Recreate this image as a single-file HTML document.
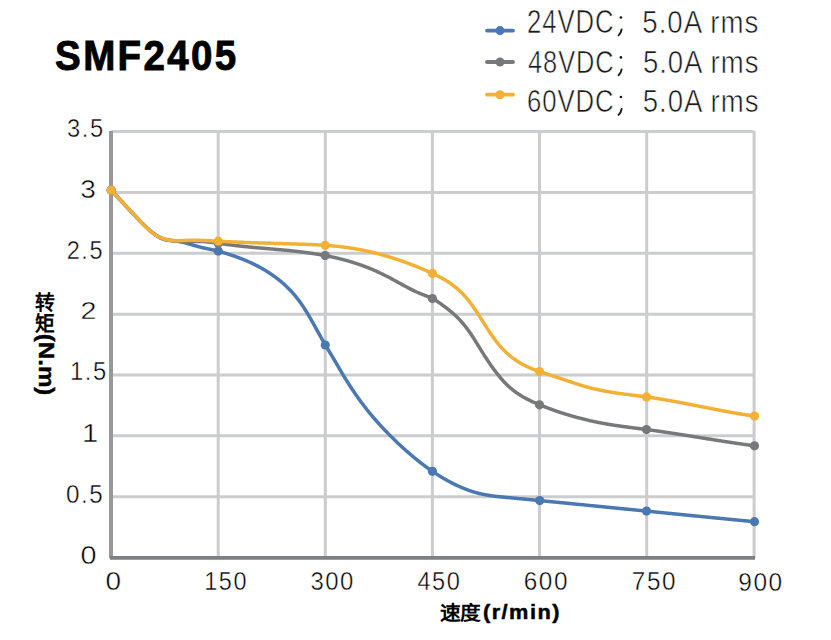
<!DOCTYPE html>
<html lang="zh-CN"><head><meta charset="utf-8"><style>
html,body{margin:0;padding:0;background:#fff;width:831px;height:640px;overflow:hidden;position:relative}
.t{position:absolute;left:0;top:0;font-family:"Liberation Sans",sans-serif;color:#000;white-space:nowrap;line-height:1;transform-origin:0 0}
</style></head><body>
<svg width="831" height="640" viewBox="0 0 831 640" style="position:absolute;left:0;top:0">
<line x1="111" y1="131.60" x2="753.8" y2="131.60" stroke="#cbccce" stroke-width="3"/>
<line x1="111" y1="192.45" x2="753.8" y2="192.45" stroke="#cbccce" stroke-width="3"/>
<line x1="111" y1="253.30" x2="753.8" y2="253.30" stroke="#cbccce" stroke-width="3"/>
<line x1="111" y1="314.15" x2="753.8" y2="314.15" stroke="#cbccce" stroke-width="3"/>
<line x1="111" y1="375.00" x2="753.8" y2="375.00" stroke="#cbccce" stroke-width="3"/>
<line x1="111" y1="435.85" x2="753.8" y2="435.85" stroke="#cbccce" stroke-width="3"/>
<line x1="111" y1="496.70" x2="753.8" y2="496.70" stroke="#cbccce" stroke-width="3"/>
<line x1="218.20" y1="131.00" x2="218.20" y2="558" stroke="#cbccce" stroke-width="3"/>
<line x1="325.30" y1="131.00" x2="325.30" y2="558" stroke="#cbccce" stroke-width="3"/>
<line x1="432.40" y1="131.00" x2="432.40" y2="558" stroke="#cbccce" stroke-width="3"/>
<line x1="539.50" y1="131.00" x2="539.50" y2="558" stroke="#cbccce" stroke-width="3"/>
<line x1="646.70" y1="131.00" x2="646.70" y2="558" stroke="#cbccce" stroke-width="3"/>
<line x1="754.10" y1="131.00" x2="754.10" y2="558" stroke="#cbccce" stroke-width="3"/>
<line x1="111" y1="131.10" x2="111" y2="558" stroke="#97989c" stroke-width="4"/>
<line x1="110" y1="557.9" x2="755" y2="557.9" stroke="#7e7f83" stroke-width="3.8"/>
<path d="M111.20,190.20 L111.70,190.72 L112.20,191.25 L112.70,191.78 L113.20,192.31 L113.70,192.84 L114.20,193.37 L114.70,193.91 L115.20,194.44 L115.70,194.98 L116.20,195.51 L116.70,196.05 L117.20,196.59 L117.70,197.13 L118.20,197.67 L118.70,198.21 L119.20,198.75 L119.70,199.29 L120.20,199.83 L120.70,200.37 L121.20,200.92 L121.70,201.46 L122.20,202.00 L122.70,202.54 L123.20,203.09 L123.70,203.63 L124.20,204.17 L124.70,204.71 L125.20,205.26 L125.70,205.80 L126.20,206.34 L126.70,206.88 L127.20,207.42 L127.70,207.96 L128.20,208.50 L128.70,209.04 L129.20,209.58 L129.70,210.12 L130.20,210.66 L130.70,211.19 L131.20,211.73 L131.70,212.26 L132.20,212.79 L132.70,213.33 L133.20,213.86 L133.70,214.39 L134.20,214.91 L134.70,215.44 L135.20,215.97 L135.70,216.49 L136.20,217.01 L136.70,217.53 L137.20,218.05 L137.70,218.57 L138.20,219.08 L138.70,219.60 L139.20,220.11 L139.70,220.62 L140.20,221.12 L140.70,221.63 L141.20,222.13 L141.70,222.63 L142.20,223.13 L142.70,223.63 L143.20,224.12 L143.70,224.61 L144.20,225.10 L144.70,225.59 L145.20,226.07 L145.70,226.55 L146.20,227.03 L146.70,227.50 L147.20,227.97 L147.70,228.44 L148.20,228.90 L148.70,229.36 L149.20,229.81 L149.70,230.26 L150.20,230.71 L150.70,231.14 L151.20,231.57 L151.70,231.99 L152.20,232.41 L152.70,232.82 L153.20,233.22 L153.70,233.62 L154.20,234.00 L154.70,234.38 L155.20,234.75 L155.70,235.11 L156.20,235.46 L156.70,235.79 L157.20,236.12 L157.70,236.44 L158.20,236.75 L158.70,237.05 L159.20,237.33 L159.70,237.60 L160.20,237.86 L160.70,238.11 L161.20,238.35 L161.70,238.57 L162.20,238.78 L162.70,238.97 L163.20,239.15 L163.70,239.32 L164.20,239.47 L164.70,239.60 L165.20,239.73 L165.70,239.83 L166.20,239.93 L166.70,240.02 L167.20,240.09 L167.70,240.16 L168.20,240.22 L168.70,240.27 L169.20,240.32 L169.70,240.36 L170.20,240.40 L170.70,240.44 L171.20,240.48 L171.70,240.51 L172.20,240.55 L172.70,240.59 L173.20,240.63 L173.70,240.68 L174.20,240.73 L174.70,240.79 L175.20,240.85 L175.70,240.92 L176.20,240.99 L176.70,241.07 L177.20,241.15 L177.70,241.23 L178.20,241.32 L178.70,241.41 L179.20,241.51 L179.70,241.61 L180.20,241.71 L180.70,241.82 L181.20,241.93 L181.70,242.04 L182.20,242.15 L182.70,242.27 L183.20,242.39 L183.70,242.52 L184.20,242.64 L184.70,242.77 L185.20,242.90 L185.70,243.04 L186.20,243.17 L186.70,243.31 L187.20,243.44 L187.70,243.58 L188.20,243.72 L188.70,243.86 L189.20,244.01 L189.70,244.15 L190.20,244.29 L190.70,244.44 L191.20,244.58 L191.70,244.73 L192.20,244.87 L192.70,245.02 L193.20,245.16 L193.70,245.31 L194.20,245.45 L194.70,245.60 L195.20,245.74 L195.70,245.88 L196.20,246.02 L196.70,246.17 L197.20,246.30 L197.70,246.44 L198.20,246.58 L198.70,246.71 L199.20,246.85 L199.70,246.98 L200.20,247.11 L200.70,247.23 L201.20,247.36 L201.70,247.48 L202.20,247.60 L202.70,247.72 L203.20,247.83 L203.70,247.95 L204.20,248.06 L204.70,248.17 L205.20,248.28 L205.70,248.39 L206.20,248.49 L206.70,248.60 L207.20,248.70 L207.70,248.81 L208.20,248.91 L208.70,249.02 L209.20,249.12 L209.70,249.22 L210.20,249.33 L210.70,249.43 L211.20,249.54 L211.70,249.64 L212.20,249.75 L212.70,249.85 L213.20,249.96 L213.70,250.07 L214.20,250.18 L214.70,250.29 L215.20,250.41 L215.70,250.52 L216.20,250.64 L216.70,250.76 L217.20,250.88 L217.70,251.00 L218.20,251.13 L218.70,251.26 L219.20,251.39 L219.70,251.52 L220.20,251.66 L220.70,251.80 L221.20,251.94 L221.70,252.08 L222.20,252.23 L222.70,252.37 L223.20,252.52 L223.70,252.67 L224.20,252.82 L224.70,252.97 L225.20,253.13 L225.70,253.28 L226.20,253.44 L226.70,253.60 L227.20,253.76 L227.70,253.92 L228.20,254.08 L228.70,254.24 L229.20,254.40 L229.70,254.56 L230.20,254.73 L230.70,254.89 L231.20,255.06 L231.70,255.23 L232.20,255.40 L232.70,255.57 L233.20,255.74 L233.70,255.91 L234.20,256.08 L234.70,256.26 L235.20,256.43 L235.70,256.61 L236.20,256.79 L236.70,256.97 L237.20,257.15 L237.70,257.33 L238.20,257.52 L238.70,257.70 L239.20,257.89 L239.70,258.08 L240.20,258.27 L240.70,258.46 L241.20,258.66 L241.70,258.85 L242.20,259.05 L242.70,259.25 L243.20,259.45 L243.70,259.65 L244.20,259.85 L244.70,260.06 L245.20,260.27 L245.70,260.47 L246.20,260.69 L246.70,260.90 L247.20,261.11 L247.70,261.33 L248.20,261.55 L248.70,261.77 L249.20,261.99 L249.70,262.22 L250.20,262.45 L250.70,262.67 L251.20,262.91 L251.70,263.14 L252.20,263.38 L252.70,263.61 L253.20,263.85 L253.70,264.10 L254.20,264.34 L254.70,264.59 L255.20,264.84 L255.70,265.09 L256.20,265.34 L256.70,265.60 L257.20,265.86 L257.70,266.12 L258.20,266.39 L258.70,266.65 L259.20,266.92 L259.70,267.20 L260.20,267.47 L260.70,267.75 L261.20,268.03 L261.70,268.31 L262.20,268.60 L262.70,268.88 L263.20,269.17 L263.70,269.47 L264.20,269.77 L264.70,270.07 L265.20,270.37 L265.70,270.67 L266.20,270.98 L266.70,271.29 L267.20,271.61 L267.70,271.92 L268.20,272.25 L268.70,272.57 L269.20,272.90 L269.70,273.23 L270.20,273.56 L270.70,273.89 L271.20,274.23 L271.70,274.58 L272.20,274.92 L272.70,275.27 L273.20,275.62 L273.70,275.98 L274.20,276.34 L274.70,276.70 L275.20,277.07 L275.70,277.44 L276.20,277.81 L276.70,278.19 L277.20,278.57 L277.70,278.95 L278.20,279.34 L278.70,279.74 L279.20,280.13 L279.70,280.53 L280.20,280.94 L280.70,281.35 L281.20,281.77 L281.70,282.19 L282.20,282.61 L282.70,283.04 L283.20,283.48 L283.70,283.92 L284.20,284.36 L284.70,284.82 L285.20,285.28 L285.70,285.74 L286.20,286.21 L286.70,286.68 L287.20,287.17 L287.70,287.66 L288.20,288.15 L288.70,288.65 L289.20,289.16 L289.70,289.68 L290.20,290.20 L290.70,290.73 L291.20,291.26 L291.70,291.81 L292.20,292.36 L292.70,292.92 L293.20,293.49 L293.70,294.06 L294.20,294.64 L294.70,295.23 L295.20,295.83 L295.70,296.44 L296.20,297.06 L296.70,297.68 L297.20,298.31 L297.70,298.96 L298.20,299.61 L298.70,300.27 L299.20,300.94 L299.70,301.61 L300.20,302.30 L300.70,303.00 L301.20,303.71 L301.70,304.43 L302.20,305.15 L302.70,305.89 L303.20,306.64 L303.70,307.39 L304.20,308.16 L304.70,308.94 L305.20,309.73 L305.70,310.53 L306.20,311.33 L306.70,312.15 L307.20,312.97 L307.70,313.80 L308.20,314.64 L308.70,315.49 L309.20,316.34 L309.70,317.20 L310.20,318.06 L310.70,318.93 L311.20,319.80 L311.70,320.68 L312.20,321.57 L312.70,322.45 L313.20,323.35 L313.70,324.24 L314.20,325.14 L314.70,326.04 L315.20,326.94 L315.70,327.84 L316.20,328.74 L316.70,329.65 L317.20,330.55 L317.70,331.45 L318.20,332.36 L318.70,333.26 L319.20,334.16 L319.70,335.06 L320.20,335.96 L320.70,336.86 L321.20,337.75 L321.70,338.64 L322.20,339.53 L322.70,340.41 L323.20,341.29 L323.70,342.16 L324.20,343.03 L324.70,343.89 L325.20,344.75 L325.70,345.60 L326.20,346.44 L326.70,347.28 L327.20,348.12 L327.70,348.95 L328.20,349.77 L328.70,350.60 L329.20,351.43 L329.70,352.25 L330.20,353.07 L330.70,353.90 L331.20,354.73 L331.70,355.55 L332.20,356.39 L332.70,357.22 L333.20,358.06 L333.70,358.90 L334.20,359.75 L334.70,360.60 L335.20,361.45 L335.70,362.30 L336.20,363.16 L336.70,364.01 L337.20,364.87 L337.70,365.73 L338.20,366.58 L338.70,367.44 L339.20,368.29 L339.70,369.15 L340.20,370.00 L340.70,370.85 L341.20,371.69 L341.70,372.54 L342.20,373.38 L342.70,374.21 L343.20,375.04 L343.70,375.87 L344.20,376.69 L344.70,377.51 L345.20,378.32 L345.70,379.13 L346.20,379.94 L346.70,380.74 L347.20,381.53 L347.70,382.33 L348.20,383.11 L348.70,383.90 L349.20,384.68 L349.70,385.45 L350.20,386.22 L350.70,386.99 L351.20,387.75 L351.70,388.51 L352.20,389.26 L352.70,390.01 L353.20,390.76 L353.70,391.50 L354.20,392.24 L354.70,392.97 L355.20,393.70 L355.70,394.42 L356.20,395.14 L356.70,395.86 L357.20,396.57 L357.70,397.28 L358.20,397.98 L358.70,398.68 L359.20,399.38 L359.70,400.07 L360.20,400.76 L360.70,401.44 L361.20,402.12 L361.70,402.80 L362.20,403.47 L362.70,404.13 L363.20,404.80 L363.70,405.45 L364.20,406.11 L364.70,406.76 L365.20,407.41 L365.70,408.05 L366.20,408.69 L366.70,409.32 L367.20,409.96 L367.70,410.58 L368.20,411.21 L368.70,411.83 L369.20,412.44 L369.70,413.06 L370.20,413.67 L370.70,414.27 L371.20,414.88 L371.70,415.48 L372.20,416.07 L372.70,416.67 L373.20,417.26 L373.70,417.84 L374.20,418.43 L374.70,419.01 L375.20,419.58 L375.70,420.16 L376.20,420.73 L376.70,421.29 L377.20,421.86 L377.70,422.42 L378.20,422.98 L378.70,423.54 L379.20,424.09 L379.70,424.64 L380.20,425.19 L380.70,425.73 L381.20,426.27 L381.70,426.81 L382.20,427.35 L382.70,427.89 L383.20,428.42 L383.70,428.95 L384.20,429.48 L384.70,430.00 L385.20,430.52 L385.70,431.04 L386.20,431.56 L386.70,432.08 L387.20,432.59 L387.70,433.10 L388.20,433.61 L388.70,434.12 L389.20,434.63 L389.70,435.13 L390.20,435.63 L390.70,436.13 L391.20,436.63 L391.70,437.13 L392.20,437.62 L392.70,438.11 L393.20,438.60 L393.70,439.09 L394.20,439.58 L394.70,440.07 L395.20,440.55 L395.70,441.03 L396.20,441.51 L396.70,441.99 L397.20,442.47 L397.70,442.94 L398.20,443.41 L398.70,443.89 L399.20,444.35 L399.70,444.82 L400.20,445.29 L400.70,445.75 L401.20,446.21 L401.70,446.67 L402.20,447.13 L402.70,447.59 L403.20,448.04 L403.70,448.50 L404.20,448.95 L404.70,449.40 L405.20,449.85 L405.70,450.29 L406.20,450.73 L406.70,451.18 L407.20,451.62 L407.70,452.05 L408.20,452.49 L408.70,452.92 L409.20,453.36 L409.70,453.79 L410.20,454.22 L410.70,454.64 L411.20,455.07 L411.70,455.49 L412.20,455.91 L412.70,456.33 L413.20,456.75 L413.70,457.16 L414.20,457.58 L414.70,457.99 L415.20,458.40 L415.70,458.81 L416.20,459.21 L416.70,459.62 L417.20,460.02 L417.70,460.42 L418.20,460.82 L418.70,461.21 L419.20,461.61 L419.70,462.00 L420.20,462.39 L420.70,462.78 L421.20,463.16 L421.70,463.55 L422.20,463.93 L422.70,464.31 L423.20,464.69 L423.70,465.06 L424.20,465.44 L424.70,465.81 L425.20,466.18 L425.70,466.55 L426.20,466.92 L426.70,467.28 L427.20,467.64 L427.70,468.00 L428.20,468.36 L428.70,468.72 L429.20,469.07 L429.70,469.42 L430.20,469.77 L430.70,470.12 L431.20,470.47 L431.70,470.81 L432.20,471.15 L432.70,471.49 L433.20,471.83 L433.70,472.17 L434.20,472.50 L434.70,472.83 L435.20,473.16 L435.70,473.49 L436.20,473.81 L436.70,474.14 L437.20,474.46 L437.70,474.78 L438.20,475.10 L438.70,475.41 L439.20,475.72 L439.70,476.03 L440.20,476.34 L440.70,476.65 L441.20,476.95 L441.70,477.26 L442.20,477.56 L442.70,477.85 L443.20,478.15 L443.70,478.44 L444.20,478.74 L444.70,479.03 L445.20,479.31 L445.70,479.60 L446.20,479.88 L446.70,480.16 L447.20,480.44 L447.70,480.72 L448.20,480.99 L448.70,481.26 L449.20,481.53 L449.70,481.80 L450.20,482.07 L450.70,482.33 L451.20,482.59 L451.70,482.85 L452.20,483.11 L452.70,483.36 L453.20,483.61 L453.70,483.86 L454.20,484.11 L454.70,484.36 L455.20,484.60 L455.70,484.84 L456.20,485.08 L456.70,485.32 L457.20,485.55 L457.70,485.78 L458.20,486.01 L458.70,486.24 L459.20,486.46 L459.70,486.69 L460.20,486.91 L460.70,487.12 L461.20,487.34 L461.70,487.55 L462.20,487.76 L462.70,487.97 L463.20,488.18 L463.70,488.38 L464.20,488.58 L464.70,488.78 L465.20,488.97 L465.70,489.17 L466.20,489.36 L466.70,489.55 L467.20,489.73 L467.70,489.92 L468.20,490.10 L468.70,490.28 L469.20,490.45 L469.70,490.63 L470.20,490.80 L470.70,490.97 L471.20,491.13 L471.70,491.30 L472.20,491.46 L472.70,491.62 L473.20,491.77 L473.70,491.93 L474.20,492.08 L474.70,492.23 L475.20,492.37 L475.70,492.52 L476.20,492.66 L476.70,492.79 L477.20,492.93 L477.70,493.06 L478.20,493.19 L478.70,493.32 L479.20,493.45 L479.70,493.57 L480.20,493.69 L480.70,493.80 L481.20,493.92 L481.70,494.03 L482.20,494.14 L482.70,494.25 L483.20,494.35 L483.70,494.45 L484.20,494.55 L484.70,494.65 L485.20,494.74 L485.70,494.84 L486.20,494.93 L486.70,495.02 L487.20,495.10 L487.70,495.19 L488.20,495.27 L488.70,495.35 L489.20,495.43 L489.70,495.51 L490.20,495.58 L490.70,495.66 L491.20,495.73 L491.70,495.80 L492.20,495.87 L492.70,495.94 L493.20,496.00 L493.70,496.07 L494.20,496.13 L494.70,496.19 L495.20,496.25 L495.70,496.31 L496.20,496.37 L496.70,496.43 L497.20,496.49 L497.70,496.54 L498.20,496.60 L498.70,496.65 L499.20,496.70 L499.70,496.76 L500.20,496.81 L500.70,496.86 L501.20,496.91 L501.70,496.96 L502.20,497.01 L502.70,497.06 L503.20,497.11 L503.70,497.15 L504.20,497.20 L504.70,497.25 L505.20,497.30 L505.70,497.34 L506.20,497.39 L506.70,497.44 L507.20,497.49 L507.70,497.53 L508.20,497.58 L508.70,497.63 L509.20,497.67 L509.70,497.72 L510.20,497.77 L510.70,497.82 L511.20,497.86 L511.70,497.91 L512.20,497.96 L512.70,498.00 L513.20,498.05 L513.70,498.10 L514.20,498.15 L514.70,498.19 L515.20,498.24 L515.70,498.29 L516.20,498.34 L516.70,498.38 L517.20,498.43 L517.70,498.48 L518.20,498.53 L518.70,498.57 L519.20,498.62 L519.70,498.67 L520.20,498.72 L520.70,498.76 L521.20,498.81 L521.70,498.86 L522.20,498.91 L522.70,498.95 L523.20,499.00 L523.70,499.05 L524.20,499.10 L524.70,499.14 L525.20,499.19 L525.70,499.24 L526.20,499.29 L526.70,499.34 L527.20,499.38 L527.70,499.43 L528.20,499.48 L528.70,499.53 L529.20,499.57 L529.70,499.62 L530.20,499.67 L530.70,499.72 L531.20,499.77 L531.70,499.81 L532.20,499.86 L532.70,499.91 L533.20,499.96 L533.70,500.01 L534.20,500.05 L534.70,500.10 L535.20,500.15 L535.70,500.20 L536.20,500.25 L536.70,500.29 L537.20,500.34 L537.70,500.39 L538.20,500.44 L538.70,500.49 L539.20,500.54 L539.70,500.58 L540.20,500.63 L540.70,500.68 L541.20,500.73 L541.70,500.78 L542.20,500.82 L542.70,500.87 L543.20,500.92 L543.70,500.97 L544.20,501.02 L544.70,501.07 L545.20,501.11 L545.70,501.16 L546.20,501.21 L546.70,501.26 L547.20,501.31 L547.70,501.36 L548.20,501.41 L548.70,501.45 L549.20,501.50 L549.70,501.55 L550.20,501.60 L550.70,501.65 L551.20,501.70 L551.70,501.74 L552.20,501.79 L552.70,501.84 L553.20,501.89 L553.70,501.94 L554.20,501.99 L554.70,502.04 L555.20,502.08 L555.70,502.13 L556.20,502.18 L556.70,502.23 L557.20,502.28 L557.70,502.33 L558.20,502.38 L558.70,502.43 L559.20,502.47 L559.70,502.52 L560.20,502.57 L560.70,502.62 L561.20,502.67 L561.70,502.72 L562.20,502.77 L562.70,502.82 L563.20,502.86 L563.70,502.91 L564.20,502.96 L564.70,503.01 L565.20,503.06 L565.70,503.11 L566.20,503.16 L566.70,503.21 L567.20,503.26 L567.70,503.30 L568.20,503.35 L568.70,503.40 L569.20,503.45 L569.70,503.50 L570.20,503.55 L570.70,503.60 L571.20,503.65 L571.70,503.70 L572.20,503.75 L572.70,503.79 L573.20,503.84 L573.70,503.89 L574.20,503.94 L574.70,503.99 L575.20,504.04 L575.70,504.09 L576.20,504.14 L576.70,504.19 L577.20,504.24 L577.70,504.29 L578.20,504.33 L578.70,504.38 L579.20,504.43 L579.70,504.48 L580.20,504.53 L580.70,504.58 L581.20,504.63 L581.70,504.68 L582.20,504.73 L582.70,504.78 L583.20,504.83 L583.70,504.88 L584.20,504.93 L584.70,504.97 L585.20,505.02 L585.70,505.07 L586.20,505.12 L586.70,505.17 L587.20,505.22 L587.70,505.27 L588.20,505.32 L588.70,505.37 L589.20,505.42 L589.70,505.47 L590.20,505.52 L590.70,505.57 L591.20,505.62 L591.70,505.67 L592.20,505.71 L592.70,505.76 L593.20,505.81 L593.70,505.86 L594.20,505.91 L594.70,505.96 L595.20,506.01 L595.70,506.06 L596.20,506.11 L596.70,506.16 L597.20,506.21 L597.70,506.26 L598.20,506.31 L598.70,506.36 L599.20,506.41 L599.70,506.46 L600.20,506.51 L600.70,506.56 L601.20,506.61 L601.70,506.65 L602.20,506.70 L602.70,506.75 L603.20,506.80 L603.70,506.85 L604.20,506.90 L604.70,506.95 L605.20,507.00 L605.70,507.05 L606.20,507.10 L606.70,507.15 L607.20,507.20 L607.70,507.25 L608.20,507.30 L608.70,507.35 L609.20,507.40 L609.70,507.45 L610.20,507.50 L610.70,507.55 L611.20,507.60 L611.70,507.65 L612.20,507.70 L612.70,507.75 L613.20,507.79 L613.70,507.84 L614.20,507.89 L614.70,507.94 L615.20,507.99 L615.70,508.04 L616.20,508.09 L616.70,508.14 L617.20,508.19 L617.70,508.24 L618.20,508.29 L618.70,508.34 L619.20,508.39 L619.70,508.44 L620.20,508.49 L620.70,508.54 L621.20,508.59 L621.70,508.64 L622.20,508.69 L622.70,508.74 L623.20,508.79 L623.70,508.84 L624.20,508.89 L624.70,508.94 L625.20,508.99 L625.70,509.04 L626.20,509.09 L626.70,509.14 L627.20,509.19 L627.70,509.24 L628.20,509.29 L628.70,509.34 L629.20,509.38 L629.70,509.43 L630.20,509.48 L630.70,509.53 L631.20,509.58 L631.70,509.63 L632.20,509.68 L632.70,509.73 L633.20,509.78 L633.70,509.83 L634.20,509.88 L634.70,509.93 L635.20,509.98 L635.70,510.03 L636.20,510.08 L636.70,510.13 L637.20,510.18 L637.70,510.23 L638.20,510.28 L638.70,510.33 L639.20,510.38 L639.70,510.43 L640.20,510.48 L640.70,510.53 L641.20,510.58 L641.70,510.63 L642.20,510.68 L642.70,510.73 L643.20,510.78 L643.70,510.83 L644.20,510.88 L644.70,510.93 L645.20,510.98 L645.70,511.03 L646.20,511.08 L646.70,511.13 L647.20,511.18 L647.70,511.23 L648.20,511.27 L648.70,511.32 L649.20,511.37 L649.70,511.42 L650.20,511.47 L650.70,511.52 L651.20,511.57 L651.70,511.62 L652.20,511.67 L652.70,511.72 L653.20,511.77 L653.70,511.82 L654.20,511.87 L654.70,511.92 L655.20,511.97 L655.70,512.02 L656.20,512.07 L656.70,512.12 L657.20,512.17 L657.70,512.22 L658.20,512.27 L658.70,512.32 L659.20,512.37 L659.70,512.42 L660.20,512.47 L660.70,512.52 L661.20,512.57 L661.70,512.62 L662.20,512.67 L662.70,512.72 L663.20,512.77 L663.70,512.82 L664.20,512.87 L664.70,512.91 L665.20,512.96 L665.70,513.01 L666.20,513.06 L666.70,513.11 L667.20,513.16 L667.70,513.21 L668.20,513.26 L668.70,513.31 L669.20,513.36 L669.70,513.41 L670.20,513.46 L670.70,513.51 L671.20,513.56 L671.70,513.61 L672.20,513.66 L672.70,513.71 L673.20,513.76 L673.70,513.81 L674.20,513.86 L674.70,513.91 L675.20,513.96 L675.70,514.01 L676.20,514.06 L676.70,514.11 L677.20,514.15 L677.70,514.20 L678.20,514.25 L678.70,514.30 L679.20,514.35 L679.70,514.40 L680.20,514.45 L680.70,514.50 L681.20,514.55 L681.70,514.60 L682.20,514.65 L682.70,514.70 L683.20,514.75 L683.70,514.80 L684.20,514.85 L684.70,514.90 L685.20,514.95 L685.70,515.00 L686.20,515.05 L686.70,515.09 L687.20,515.14 L687.70,515.19 L688.20,515.24 L688.70,515.29 L689.20,515.34 L689.70,515.39 L690.20,515.44 L690.70,515.49 L691.20,515.54 L691.70,515.59 L692.20,515.64 L692.70,515.69 L693.20,515.74 L693.70,515.79 L694.20,515.84 L694.70,515.88 L695.20,515.93 L695.70,515.98 L696.20,516.03 L696.70,516.08 L697.20,516.13 L697.70,516.18 L698.20,516.23 L698.70,516.28 L699.20,516.33 L699.70,516.38 L700.20,516.43 L700.70,516.48 L701.20,516.52 L701.70,516.57 L702.20,516.62 L702.70,516.67 L703.20,516.72 L703.70,516.77 L704.20,516.82 L704.70,516.87 L705.20,516.92 L705.70,516.97 L706.20,517.02 L706.70,517.06 L707.20,517.11 L707.70,517.16 L708.20,517.21 L708.70,517.26 L709.20,517.31 L709.70,517.36 L710.20,517.41 L710.70,517.46 L711.20,517.51 L711.70,517.56 L712.20,517.60 L712.70,517.65 L713.20,517.70 L713.70,517.75 L714.20,517.80 L714.70,517.85 L715.20,517.90 L715.70,517.95 L716.20,518.00 L716.70,518.04 L717.20,518.09 L717.70,518.14 L718.20,518.19 L718.70,518.24 L719.20,518.29 L719.70,518.34 L720.20,518.39 L720.70,518.43 L721.20,518.48 L721.70,518.53 L722.20,518.58 L722.70,518.63 L723.20,518.68 L723.70,518.73 L724.20,518.78 L724.70,518.82 L725.20,518.87 L725.70,518.92 L726.20,518.97 L726.70,519.02 L727.20,519.07 L727.70,519.12 L728.20,519.16 L728.70,519.21 L729.20,519.26 L729.70,519.31 L730.20,519.36 L730.70,519.41 L731.20,519.46 L731.70,519.50 L732.20,519.55 L732.70,519.60 L733.20,519.65 L733.70,519.70 L734.20,519.75 L734.70,519.79 L735.20,519.84 L735.70,519.89 L736.20,519.94 L736.70,519.99 L737.20,520.04 L737.70,520.08 L738.20,520.13 L738.70,520.18 L739.20,520.23 L739.70,520.28 L740.20,520.33 L740.70,520.37 L741.20,520.42 L741.70,520.47 L742.20,520.52 L742.70,520.57 L743.20,520.62 L743.70,520.66 L744.20,520.71 L744.70,520.76 L745.20,520.81 L745.70,520.86 L746.20,520.90 L746.70,520.95 L747.20,521.00 L747.70,521.05 L748.20,521.10 L748.70,521.14 L749.20,521.19 L749.70,521.24 L750.20,521.29 L750.70,521.34 L751.20,521.38 L751.70,521.43 L752.20,521.48 L752.70,521.53 L753.20,521.57 L753.70,521.62 L754.20,521.67 L754.50,521.70" fill="none" stroke="#4a78b0" stroke-width="3.5" stroke-linecap="round" stroke-linejoin="round"/>
<circle cx="111.20" cy="190.20" r="4.6" fill="#4a78b0"/>
<circle cx="218.20" cy="251.10" r="4.6" fill="#4a78b0"/>
<circle cx="325.30" cy="345.00" r="4.6" fill="#4a78b0"/>
<circle cx="432.40" cy="471.30" r="4.6" fill="#4a78b0"/>
<circle cx="539.70" cy="500.60" r="4.6" fill="#4a78b0"/>
<circle cx="646.50" cy="511.10" r="4.6" fill="#4a78b0"/>
<circle cx="754.50" cy="521.70" r="4.6" fill="#4a78b0"/>
<path d="M111.20,190.20 L111.70,190.73 L112.20,191.27 L112.70,191.80 L113.20,192.34 L113.70,192.87 L114.20,193.41 L114.70,193.94 L115.20,194.48 L115.70,195.01 L116.20,195.55 L116.70,196.08 L117.20,196.62 L117.70,197.15 L118.20,197.69 L118.70,198.22 L119.20,198.76 L119.70,199.29 L120.20,199.83 L120.70,200.37 L121.20,200.90 L121.70,201.44 L122.20,201.97 L122.70,202.51 L123.20,203.05 L123.70,203.58 L124.20,204.12 L124.70,204.65 L125.20,205.19 L125.70,205.73 L126.20,206.26 L126.70,206.80 L127.20,207.34 L127.70,207.87 L128.20,208.41 L128.70,208.95 L129.20,209.48 L129.70,210.02 L130.20,210.56 L130.70,211.09 L131.20,211.63 L131.70,212.17 L132.20,212.70 L132.70,213.24 L133.20,213.78 L133.70,214.31 L134.20,214.85 L134.70,215.39 L135.20,215.92 L135.70,216.46 L136.20,217.00 L136.70,217.53 L137.20,218.07 L137.70,218.60 L138.20,219.14 L138.70,219.67 L139.20,220.20 L139.70,220.73 L140.20,221.26 L140.70,221.79 L141.20,222.31 L141.70,222.83 L142.20,223.35 L142.70,223.86 L143.20,224.37 L143.70,224.87 L144.20,225.37 L144.70,225.87 L145.20,226.36 L145.70,226.84 L146.20,227.32 L146.70,227.80 L147.20,228.26 L147.70,228.72 L148.20,229.18 L148.70,229.62 L149.20,230.06 L149.70,230.49 L150.20,230.92 L150.70,231.33 L151.20,231.74 L151.70,232.14 L152.20,232.52 L152.70,232.90 L153.20,233.27 L153.70,233.63 L154.20,233.98 L154.70,234.31 L155.20,234.64 L155.70,234.96 L156.20,235.26 L156.70,235.56 L157.20,235.84 L157.70,236.11 L158.20,236.38 L158.70,236.63 L159.20,236.88 L159.70,237.12 L160.20,237.34 L160.70,237.56 L161.20,237.77 L161.70,237.98 L162.20,238.17 L162.70,238.36 L163.20,238.54 L163.70,238.72 L164.20,238.88 L164.70,239.04 L165.20,239.20 L165.70,239.34 L166.20,239.49 L166.70,239.62 L167.20,239.75 L167.70,239.88 L168.20,239.99 L168.70,240.11 L169.20,240.21 L169.70,240.32 L170.20,240.41 L170.70,240.51 L171.20,240.59 L171.70,240.68 L172.20,240.75 L172.70,240.83 L173.20,240.90 L173.70,240.96 L174.20,241.02 L174.70,241.08 L175.20,241.13 L175.70,241.18 L176.20,241.22 L176.70,241.26 L177.20,241.30 L177.70,241.34 L178.20,241.37 L178.70,241.40 L179.20,241.42 L179.70,241.44 L180.20,241.46 L180.70,241.48 L181.20,241.49 L181.70,241.51 L182.20,241.52 L182.70,241.53 L183.20,241.53 L183.70,241.54 L184.20,241.54 L184.70,241.54 L185.20,241.54 L185.70,241.54 L186.20,241.54 L186.70,241.53 L187.20,241.53 L187.70,241.52 L188.20,241.51 L188.70,241.51 L189.20,241.50 L189.70,241.49 L190.20,241.48 L190.70,241.48 L191.20,241.47 L191.70,241.46 L192.20,241.45 L192.70,241.44 L193.20,241.44 L193.70,241.43 L194.20,241.42 L194.70,241.42 L195.20,241.42 L195.70,241.41 L196.20,241.41 L196.70,241.41 L197.20,241.41 L197.70,241.42 L198.20,241.42 L198.70,241.43 L199.20,241.44 L199.70,241.45 L200.20,241.46 L200.70,241.47 L201.20,241.49 L201.70,241.51 L202.20,241.54 L202.70,241.56 L203.20,241.59 L203.70,241.62 L204.20,241.65 L204.70,241.68 L205.20,241.72 L205.70,241.76 L206.20,241.80 L206.70,241.84 L207.20,241.89 L207.70,241.93 L208.20,241.98 L208.70,242.03 L209.20,242.08 L209.70,242.13 L210.20,242.19 L210.70,242.24 L211.20,242.30 L211.70,242.36 L212.20,242.42 L212.70,242.48 L213.20,242.54 L213.70,242.60 L214.20,242.67 L214.70,242.73 L215.20,242.80 L215.70,242.87 L216.20,242.93 L216.70,243.00 L217.20,243.07 L217.70,243.14 L218.20,243.21 L218.70,243.28 L219.20,243.35 L219.70,243.42 L220.20,243.49 L220.70,243.56 L221.20,243.63 L221.70,243.71 L222.20,243.78 L222.70,243.85 L223.20,243.92 L223.70,243.99 L224.20,244.06 L224.70,244.13 L225.20,244.21 L225.70,244.28 L226.20,244.34 L226.70,244.41 L227.20,244.48 L227.70,244.55 L228.20,244.62 L228.70,244.68 L229.20,244.75 L229.70,244.82 L230.20,244.88 L230.70,244.94 L231.20,245.01 L231.70,245.07 L232.20,245.13 L232.70,245.20 L233.20,245.26 L233.70,245.32 L234.20,245.38 L234.70,245.44 L235.20,245.50 L235.70,245.56 L236.20,245.62 L236.70,245.67 L237.20,245.73 L237.70,245.79 L238.20,245.85 L238.70,245.90 L239.20,245.96 L239.70,246.01 L240.20,246.07 L240.70,246.12 L241.20,246.18 L241.70,246.23 L242.20,246.28 L242.70,246.34 L243.20,246.39 L243.70,246.44 L244.20,246.49 L244.70,246.54 L245.20,246.60 L245.70,246.65 L246.20,246.70 L246.70,246.75 L247.20,246.80 L247.70,246.85 L248.20,246.89 L248.70,246.94 L249.20,246.99 L249.70,247.04 L250.20,247.09 L250.70,247.14 L251.20,247.18 L251.70,247.23 L252.20,247.28 L252.70,247.32 L253.20,247.37 L253.70,247.42 L254.20,247.46 L254.70,247.51 L255.20,247.56 L255.70,247.60 L256.20,247.65 L256.70,247.69 L257.20,247.74 L257.70,247.78 L258.20,247.83 L258.70,247.87 L259.20,247.91 L259.70,247.96 L260.20,248.00 L260.70,248.05 L261.20,248.09 L261.70,248.13 L262.20,248.18 L262.70,248.22 L263.20,248.26 L263.70,248.31 L264.20,248.35 L264.70,248.40 L265.20,248.44 L265.70,248.48 L266.20,248.52 L266.70,248.57 L267.20,248.61 L267.70,248.65 L268.20,248.70 L268.70,248.74 L269.20,248.78 L269.70,248.83 L270.20,248.87 L270.70,248.91 L271.20,248.96 L271.70,249.00 L272.20,249.04 L272.70,249.09 L273.20,249.13 L273.70,249.17 L274.20,249.22 L274.70,249.26 L275.20,249.31 L275.70,249.35 L276.20,249.39 L276.70,249.44 L277.20,249.48 L277.70,249.53 L278.20,249.57 L278.70,249.62 L279.20,249.66 L279.70,249.71 L280.20,249.75 L280.70,249.80 L281.20,249.84 L281.70,249.89 L282.20,249.94 L282.70,249.98 L283.20,250.03 L283.70,250.08 L284.20,250.12 L284.70,250.17 L285.20,250.22 L285.70,250.27 L286.20,250.31 L286.70,250.36 L287.20,250.41 L287.70,250.46 L288.20,250.51 L288.70,250.56 L289.20,250.61 L289.70,250.66 L290.20,250.71 L290.70,250.76 L291.20,250.81 L291.70,250.87 L292.20,250.92 L292.70,250.97 L293.20,251.02 L293.70,251.08 L294.20,251.13 L294.70,251.18 L295.20,251.24 L295.70,251.29 L296.20,251.35 L296.70,251.41 L297.20,251.46 L297.70,251.52 L298.20,251.58 L298.70,251.63 L299.20,251.69 L299.70,251.75 L300.20,251.81 L300.70,251.87 L301.20,251.93 L301.70,251.99 L302.20,252.05 L302.70,252.11 L303.20,252.18 L303.70,252.24 L304.20,252.30 L304.70,252.37 L305.20,252.43 L305.70,252.50 L306.20,252.56 L306.70,252.63 L307.20,252.70 L307.70,252.76 L308.20,252.83 L308.70,252.90 L309.20,252.97 L309.70,253.04 L310.20,253.11 L310.70,253.18 L311.20,253.25 L311.70,253.33 L312.20,253.40 L312.70,253.47 L313.20,253.55 L313.70,253.62 L314.20,253.70 L314.70,253.78 L315.20,253.86 L315.70,253.93 L316.20,254.01 L316.70,254.09 L317.20,254.17 L317.70,254.26 L318.20,254.34 L318.70,254.42 L319.20,254.51 L319.70,254.59 L320.20,254.68 L320.70,254.76 L321.20,254.85 L321.70,254.94 L322.20,255.03 L322.70,255.12 L323.20,255.21 L323.70,255.30 L324.20,255.39 L324.70,255.48 L325.20,255.58 L325.70,255.67 L326.20,255.77 L326.70,255.87 L327.20,255.96 L327.70,256.06 L328.20,256.16 L328.70,256.26 L329.20,256.37 L329.70,256.47 L330.20,256.57 L330.70,256.68 L331.20,256.78 L331.70,256.89 L332.20,257.00 L332.70,257.10 L333.20,257.21 L333.70,257.32 L334.20,257.43 L334.70,257.55 L335.20,257.66 L335.70,257.78 L336.20,257.89 L336.70,258.01 L337.20,258.13 L337.70,258.24 L338.20,258.36 L338.70,258.49 L339.20,258.61 L339.70,258.73 L340.20,258.85 L340.70,258.98 L341.20,259.11 L341.70,259.23 L342.20,259.36 L342.70,259.49 L343.20,259.62 L343.70,259.76 L344.20,259.89 L344.70,260.02 L345.20,260.16 L345.70,260.30 L346.20,260.43 L346.70,260.57 L347.20,260.71 L347.70,260.86 L348.20,261.00 L348.70,261.14 L349.20,261.29 L349.70,261.44 L350.20,261.58 L350.70,261.73 L351.20,261.88 L351.70,262.03 L352.20,262.19 L352.70,262.34 L353.20,262.50 L353.70,262.65 L354.20,262.81 L354.70,262.97 L355.20,263.13 L355.70,263.29 L356.20,263.46 L356.70,263.62 L357.20,263.79 L357.70,263.96 L358.20,264.12 L358.70,264.29 L359.20,264.47 L359.70,264.64 L360.20,264.81 L360.70,264.99 L361.20,265.17 L361.70,265.34 L362.20,265.52 L362.70,265.70 L363.20,265.89 L363.70,266.07 L364.20,266.26 L364.70,266.44 L365.20,266.63 L365.70,266.82 L366.20,267.01 L366.70,267.21 L367.20,267.40 L367.70,267.60 L368.20,267.79 L368.70,267.99 L369.20,268.19 L369.70,268.40 L370.20,268.60 L370.70,268.80 L371.20,269.01 L371.70,269.22 L372.20,269.43 L372.70,269.64 L373.20,269.85 L373.70,270.07 L374.20,270.28 L374.70,270.50 L375.20,270.72 L375.70,270.94 L376.20,271.16 L376.70,271.39 L377.20,271.61 L377.70,271.84 L378.20,272.07 L378.70,272.30 L379.20,272.53 L379.70,272.76 L380.20,273.00 L380.70,273.24 L381.20,273.48 L381.70,273.72 L382.20,273.96 L382.70,274.20 L383.20,274.45 L383.70,274.70 L384.20,274.95 L384.70,275.20 L385.20,275.45 L385.70,275.70 L386.20,275.96 L386.70,276.22 L387.20,276.48 L387.70,276.74 L388.20,277.00 L388.70,277.26 L389.20,277.52 L389.70,277.79 L390.20,278.06 L390.70,278.32 L391.20,278.59 L391.70,278.86 L392.20,279.13 L392.70,279.40 L393.20,279.68 L393.70,279.95 L394.20,280.22 L394.70,280.50 L395.20,280.77 L395.70,281.04 L396.20,281.32 L396.70,281.59 L397.20,281.87 L397.70,282.14 L398.20,282.42 L398.70,282.70 L399.20,282.97 L399.70,283.25 L400.20,283.52 L400.70,283.79 L401.20,284.07 L401.70,284.34 L402.20,284.62 L402.70,284.89 L403.20,285.16 L403.70,285.43 L404.20,285.70 L404.70,285.97 L405.20,286.24 L405.70,286.51 L406.20,286.77 L406.70,287.04 L407.20,287.30 L407.70,287.57 L408.20,287.83 L408.70,288.09 L409.20,288.35 L409.70,288.61 L410.20,288.86 L410.70,289.12 L411.20,289.37 L411.70,289.62 L412.20,289.87 L412.70,290.12 L413.20,290.36 L413.70,290.60 L414.20,290.85 L414.70,291.08 L415.20,291.32 L415.70,291.55 L416.20,291.79 L416.70,292.02 L417.20,292.24 L417.70,292.47 L418.20,292.69 L418.70,292.91 L419.20,293.12 L419.70,293.34 L420.20,293.55 L420.70,293.75 L421.20,293.96 L421.70,294.16 L422.20,294.36 L422.70,294.55 L423.20,294.75 L423.70,294.94 L424.20,295.14 L424.70,295.33 L425.20,295.52 L425.70,295.72 L426.20,295.91 L426.70,296.11 L427.20,296.31 L427.70,296.51 L428.20,296.72 L428.70,296.93 L429.20,297.14 L429.70,297.36 L430.20,297.58 L430.70,297.81 L431.20,298.05 L431.70,298.29 L432.20,298.54 L432.70,298.80 L433.20,299.06 L433.70,299.33 L434.20,299.61 L434.70,299.90 L435.20,300.19 L435.70,300.49 L436.20,300.80 L436.70,301.11 L437.20,301.42 L437.70,301.75 L438.20,302.07 L438.70,302.41 L439.20,302.75 L439.70,303.09 L440.20,303.44 L440.70,303.79 L441.20,304.14 L441.70,304.50 L442.20,304.86 L442.70,305.23 L443.20,305.60 L443.70,305.97 L444.20,306.34 L444.70,306.72 L445.20,307.09 L445.70,307.47 L446.20,307.85 L446.70,308.24 L447.20,308.63 L447.70,309.02 L448.20,309.41 L448.70,309.81 L449.20,310.21 L449.70,310.61 L450.20,311.02 L450.70,311.43 L451.20,311.85 L451.70,312.27 L452.20,312.70 L452.70,313.13 L453.20,313.57 L453.70,314.01 L454.20,314.46 L454.70,314.91 L455.20,315.37 L455.70,315.84 L456.20,316.32 L456.70,316.80 L457.20,317.29 L457.70,317.79 L458.20,318.29 L458.70,318.80 L459.20,319.32 L459.70,319.85 L460.20,320.39 L460.70,320.93 L461.20,321.49 L461.70,322.05 L462.20,322.62 L462.70,323.20 L463.20,323.79 L463.70,324.38 L464.20,324.99 L464.70,325.60 L465.20,326.23 L465.70,326.86 L466.20,327.50 L466.70,328.16 L467.20,328.82 L467.70,329.49 L468.20,330.17 L468.70,330.87 L469.20,331.57 L469.70,332.28 L470.20,333.00 L470.70,333.74 L471.20,334.48 L471.70,335.23 L472.20,335.99 L472.70,336.76 L473.20,337.53 L473.70,338.31 L474.20,339.10 L474.70,339.89 L475.20,340.69 L475.70,341.49 L476.20,342.30 L476.70,343.11 L477.20,343.92 L477.70,344.73 L478.20,345.55 L478.70,346.36 L479.20,347.18 L479.70,347.99 L480.20,348.80 L480.70,349.62 L481.20,350.43 L481.70,351.23 L482.20,352.03 L482.70,352.83 L483.20,353.63 L483.70,354.42 L484.20,355.20 L484.70,355.98 L485.20,356.76 L485.70,357.53 L486.20,358.30 L486.70,359.06 L487.20,359.81 L487.70,360.57 L488.20,361.31 L488.70,362.05 L489.20,362.79 L489.70,363.52 L490.20,364.24 L490.70,364.96 L491.20,365.67 L491.70,366.38 L492.20,367.08 L492.70,367.77 L493.20,368.46 L493.70,369.14 L494.20,369.82 L494.70,370.49 L495.20,371.15 L495.70,371.81 L496.20,372.46 L496.70,373.11 L497.20,373.75 L497.70,374.38 L498.20,375.00 L498.70,375.62 L499.20,376.23 L499.70,376.83 L500.20,377.43 L500.70,378.02 L501.20,378.60 L501.70,379.17 L502.20,379.74 L502.70,380.30 L503.20,380.85 L503.70,381.40 L504.20,381.93 L504.70,382.46 L505.20,382.98 L505.70,383.50 L506.20,384.00 L506.70,384.50 L507.20,384.99 L507.70,385.47 L508.20,385.94 L508.70,386.40 L509.20,386.86 L509.70,387.31 L510.20,387.75 L510.70,388.18 L511.20,388.60 L511.70,389.02 L512.20,389.43 L512.70,389.84 L513.20,390.23 L513.70,390.62 L514.20,391.01 L514.70,391.39 L515.20,391.76 L515.70,392.12 L516.20,392.48 L516.70,392.83 L517.20,393.18 L517.70,393.52 L518.20,393.86 L518.70,394.19 L519.20,394.52 L519.70,394.84 L520.20,395.16 L520.70,395.47 L521.20,395.78 L521.70,396.08 L522.20,396.38 L522.70,396.67 L523.20,396.97 L523.70,397.25 L524.20,397.53 L524.70,397.81 L525.20,398.09 L525.70,398.36 L526.20,398.62 L526.70,398.89 L527.20,399.15 L527.70,399.41 L528.20,399.66 L528.70,399.91 L529.20,400.16 L529.70,400.40 L530.20,400.64 L530.70,400.88 L531.20,401.12 L531.70,401.35 L532.20,401.58 L532.70,401.81 L533.20,402.04 L533.70,402.26 L534.20,402.49 L534.70,402.71 L535.20,402.92 L535.70,403.14 L536.20,403.36 L536.70,403.57 L537.20,403.78 L537.70,403.99 L538.20,404.20 L538.70,404.41 L539.20,404.61 L539.70,404.82 L540.20,405.02 L540.70,405.23 L541.20,405.43 L541.70,405.63 L542.20,405.83 L542.70,406.03 L543.20,406.23 L543.70,406.43 L544.20,406.62 L544.70,406.82 L545.20,407.01 L545.70,407.21 L546.20,407.40 L546.70,407.59 L547.20,407.78 L547.70,407.97 L548.20,408.16 L548.70,408.35 L549.20,408.53 L549.70,408.72 L550.20,408.90 L550.70,409.09 L551.20,409.27 L551.70,409.45 L552.20,409.63 L552.70,409.81 L553.20,409.99 L553.70,410.17 L554.20,410.35 L554.70,410.52 L555.20,410.70 L555.70,410.87 L556.20,411.05 L556.70,411.22 L557.20,411.39 L557.70,411.56 L558.20,411.73 L558.70,411.90 L559.20,412.07 L559.70,412.23 L560.20,412.40 L560.70,412.56 L561.20,412.73 L561.70,412.89 L562.20,413.05 L562.70,413.21 L563.20,413.37 L563.70,413.53 L564.20,413.69 L564.70,413.85 L565.20,414.01 L565.70,414.16 L566.20,414.32 L566.70,414.47 L567.20,414.62 L567.70,414.78 L568.20,414.93 L568.70,415.08 L569.20,415.23 L569.70,415.37 L570.20,415.52 L570.70,415.67 L571.20,415.81 L571.70,415.96 L572.20,416.10 L572.70,416.25 L573.20,416.39 L573.70,416.53 L574.20,416.67 L574.70,416.81 L575.20,416.95 L575.70,417.09 L576.20,417.22 L576.70,417.36 L577.20,417.50 L577.70,417.63 L578.20,417.76 L578.70,417.90 L579.20,418.03 L579.70,418.16 L580.20,418.29 L580.70,418.42 L581.20,418.55 L581.70,418.67 L582.20,418.80 L582.70,418.93 L583.20,419.05 L583.70,419.18 L584.20,419.30 L584.70,419.42 L585.20,419.54 L585.70,419.66 L586.20,419.78 L586.70,419.90 L587.20,420.02 L587.70,420.14 L588.20,420.25 L588.70,420.37 L589.20,420.49 L589.70,420.60 L590.20,420.71 L590.70,420.83 L591.20,420.94 L591.70,421.05 L592.20,421.16 L592.70,421.27 L593.20,421.38 L593.70,421.48 L594.20,421.59 L594.70,421.70 L595.20,421.80 L595.70,421.90 L596.20,422.01 L596.70,422.11 L597.20,422.21 L597.70,422.31 L598.20,422.41 L598.70,422.51 L599.20,422.61 L599.70,422.71 L600.20,422.81 L600.70,422.90 L601.20,423.00 L601.70,423.09 L602.20,423.19 L602.70,423.28 L603.20,423.37 L603.70,423.46 L604.20,423.56 L604.70,423.65 L605.20,423.74 L605.70,423.82 L606.20,423.91 L606.70,424.00 L607.20,424.08 L607.70,424.17 L608.20,424.25 L608.70,424.34 L609.20,424.42 L609.70,424.50 L610.20,424.59 L610.70,424.67 L611.20,424.75 L611.70,424.83 L612.20,424.91 L612.70,424.99 L613.20,425.06 L613.70,425.14 L614.20,425.22 L614.70,425.29 L615.20,425.37 L615.70,425.44 L616.20,425.52 L616.70,425.59 L617.20,425.67 L617.70,425.74 L618.20,425.81 L618.70,425.88 L619.20,425.95 L619.70,426.03 L620.20,426.10 L620.70,426.17 L621.20,426.24 L621.70,426.31 L622.20,426.37 L622.70,426.44 L623.20,426.51 L623.70,426.58 L624.20,426.65 L624.70,426.71 L625.20,426.78 L625.70,426.85 L626.20,426.91 L626.70,426.98 L627.20,427.05 L627.70,427.11 L628.20,427.18 L628.70,427.24 L629.20,427.31 L629.70,427.37 L630.20,427.44 L630.70,427.50 L631.20,427.57 L631.70,427.63 L632.20,427.69 L632.70,427.76 L633.20,427.82 L633.70,427.88 L634.20,427.95 L634.70,428.01 L635.20,428.08 L635.70,428.14 L636.20,428.20 L636.70,428.27 L637.20,428.33 L637.70,428.39 L638.20,428.46 L638.70,428.52 L639.20,428.58 L639.70,428.65 L640.20,428.71 L640.70,428.77 L641.20,428.84 L641.70,428.90 L642.20,428.97 L642.70,429.03 L643.20,429.10 L643.70,429.16 L644.20,429.23 L644.70,429.29 L645.20,429.36 L645.70,429.42 L646.20,429.49 L646.70,429.55 L647.20,429.62 L647.70,429.69 L648.20,429.75 L648.70,429.82 L649.20,429.89 L649.70,429.95 L650.20,430.02 L650.70,430.09 L651.20,430.16 L651.70,430.23 L652.20,430.30 L652.70,430.37 L653.20,430.43 L653.70,430.50 L654.20,430.57 L654.70,430.64 L655.20,430.71 L655.70,430.78 L656.20,430.85 L656.70,430.93 L657.20,431.00 L657.70,431.07 L658.20,431.14 L658.70,431.21 L659.20,431.28 L659.70,431.35 L660.20,431.43 L660.70,431.50 L661.20,431.57 L661.70,431.64 L662.20,431.72 L662.70,431.79 L663.20,431.86 L663.70,431.94 L664.20,432.01 L664.70,432.08 L665.20,432.16 L665.70,432.23 L666.20,432.31 L666.70,432.38 L667.20,432.46 L667.70,432.53 L668.20,432.61 L668.70,432.68 L669.20,432.76 L669.70,432.83 L670.20,432.91 L670.70,432.98 L671.20,433.06 L671.70,433.14 L672.20,433.21 L672.70,433.29 L673.20,433.36 L673.70,433.44 L674.20,433.52 L674.70,433.59 L675.20,433.67 L675.70,433.75 L676.20,433.83 L676.70,433.90 L677.20,433.98 L677.70,434.06 L678.20,434.14 L678.70,434.21 L679.20,434.29 L679.70,434.37 L680.20,434.45 L680.70,434.53 L681.20,434.60 L681.70,434.68 L682.20,434.76 L682.70,434.84 L683.20,434.92 L683.70,435.00 L684.20,435.08 L684.70,435.15 L685.20,435.23 L685.70,435.31 L686.20,435.39 L686.70,435.47 L687.20,435.55 L687.70,435.63 L688.20,435.71 L688.70,435.79 L689.20,435.87 L689.70,435.95 L690.20,436.03 L690.70,436.11 L691.20,436.18 L691.70,436.26 L692.20,436.34 L692.70,436.42 L693.20,436.50 L693.70,436.58 L694.20,436.66 L694.70,436.74 L695.20,436.82 L695.70,436.90 L696.20,436.98 L696.70,437.06 L697.20,437.14 L697.70,437.22 L698.20,437.30 L698.70,437.38 L699.20,437.46 L699.70,437.54 L700.20,437.62 L700.70,437.70 L701.20,437.78 L701.70,437.86 L702.20,437.94 L702.70,438.02 L703.20,438.10 L703.70,438.18 L704.20,438.26 L704.70,438.34 L705.20,438.42 L705.70,438.50 L706.20,438.58 L706.70,438.66 L707.20,438.74 L707.70,438.82 L708.20,438.90 L708.70,438.98 L709.20,439.06 L709.70,439.14 L710.20,439.22 L710.70,439.30 L711.20,439.38 L711.70,439.46 L712.20,439.54 L712.70,439.62 L713.20,439.70 L713.70,439.78 L714.20,439.86 L714.70,439.94 L715.20,440.01 L715.70,440.09 L716.20,440.17 L716.70,440.25 L717.20,440.33 L717.70,440.41 L718.20,440.49 L718.70,440.57 L719.20,440.64 L719.70,440.72 L720.20,440.80 L720.70,440.88 L721.20,440.96 L721.70,441.03 L722.20,441.11 L722.70,441.19 L723.20,441.27 L723.70,441.34 L724.20,441.42 L724.70,441.50 L725.20,441.58 L725.70,441.65 L726.20,441.73 L726.70,441.81 L727.20,441.88 L727.70,441.96 L728.20,442.04 L728.70,442.11 L729.20,442.19 L729.70,442.26 L730.20,442.34 L730.70,442.42 L731.20,442.49 L731.70,442.57 L732.20,442.64 L732.70,442.72 L733.20,442.79 L733.70,442.87 L734.20,442.94 L734.70,443.01 L735.20,443.09 L735.70,443.16 L736.20,443.24 L736.70,443.31 L737.20,443.38 L737.70,443.46 L738.20,443.53 L738.70,443.60 L739.20,443.68 L739.70,443.75 L740.20,443.82 L740.70,443.89 L741.20,443.97 L741.70,444.04 L742.20,444.11 L742.70,444.18 L743.20,444.25 L743.70,444.32 L744.20,444.39 L744.70,444.46 L745.20,444.53 L745.70,444.60 L746.20,444.67 L746.70,444.74 L747.20,444.81 L747.70,444.88 L748.20,444.95 L748.70,445.02 L749.20,445.09 L749.70,445.16 L750.20,445.23 L750.70,445.29 L751.20,445.36 L751.70,445.43 L752.20,445.49 L752.70,445.56 L753.20,445.63 L753.70,445.69 L754.20,445.76 L754.50,445.80" fill="none" stroke="#77787c" stroke-width="3.5" stroke-linecap="round" stroke-linejoin="round"/>
<circle cx="111.20" cy="190.20" r="4.6" fill="#77787c"/>
<circle cx="218.20" cy="243.20" r="4.6" fill="#77787c"/>
<circle cx="325.20" cy="255.60" r="4.6" fill="#77787c"/>
<circle cx="432.40" cy="298.60" r="4.6" fill="#77787c"/>
<circle cx="539.50" cy="404.80" r="4.6" fill="#77787c"/>
<circle cx="646.50" cy="429.60" r="4.6" fill="#77787c"/>
<circle cx="754.50" cy="445.80" r="4.6" fill="#77787c"/>
<path d="M111.20,190.20 L111.70,190.74 L112.20,191.27 L112.70,191.81 L113.20,192.34 L113.70,192.88 L114.20,193.41 L114.70,193.95 L115.20,194.48 L115.70,195.01 L116.20,195.55 L116.70,196.08 L117.20,196.61 L117.70,197.15 L118.20,197.68 L118.70,198.21 L119.20,198.74 L119.70,199.28 L120.20,199.81 L120.70,200.34 L121.20,200.87 L121.70,201.41 L122.20,201.94 L122.70,202.47 L123.20,203.00 L123.70,203.54 L124.20,204.07 L124.70,204.60 L125.20,205.14 L125.70,205.67 L126.20,206.20 L126.70,206.74 L127.20,207.27 L127.70,207.80 L128.20,208.34 L128.70,208.87 L129.20,209.41 L129.70,209.94 L130.20,210.48 L130.70,211.01 L131.20,211.55 L131.70,212.08 L132.20,212.62 L132.70,213.16 L133.20,213.70 L133.70,214.23 L134.20,214.77 L134.70,215.31 L135.20,215.85 L135.70,216.39 L136.20,216.93 L136.70,217.47 L137.20,218.02 L137.70,218.56 L138.20,219.10 L138.70,219.64 L139.20,220.18 L139.70,220.71 L140.20,221.25 L140.70,221.78 L141.20,222.31 L141.70,222.84 L142.20,223.37 L142.70,223.89 L143.20,224.41 L143.70,224.92 L144.20,225.43 L144.70,225.93 L145.20,226.43 L145.70,226.93 L146.20,227.42 L146.70,227.90 L147.20,228.38 L147.70,228.85 L148.20,229.31 L148.70,229.76 L149.20,230.21 L149.70,230.65 L150.20,231.08 L150.70,231.50 L151.20,231.92 L151.70,232.32 L152.20,232.72 L152.70,233.10 L153.20,233.47 L153.70,233.84 L154.20,234.19 L154.70,234.53 L155.20,234.86 L155.70,235.18 L156.20,235.49 L156.70,235.78 L157.20,236.07 L157.70,236.34 L158.20,236.60 L158.70,236.86 L159.20,237.10 L159.70,237.33 L160.20,237.55 L160.70,237.77 L161.20,237.97 L161.70,238.16 L162.20,238.35 L162.70,238.53 L163.20,238.69 L163.70,238.85 L164.20,239.00 L164.70,239.15 L165.20,239.28 L165.70,239.41 L166.20,239.53 L166.70,239.64 L167.20,239.75 L167.70,239.84 L168.20,239.94 L168.70,240.02 L169.20,240.10 L169.70,240.17 L170.20,240.24 L170.70,240.30 L171.20,240.36 L171.70,240.41 L172.20,240.45 L172.70,240.49 L173.20,240.53 L173.70,240.56 L174.20,240.58 L174.70,240.61 L175.20,240.62 L175.70,240.64 L176.20,240.65 L176.70,240.66 L177.20,240.66 L177.70,240.66 L178.20,240.66 L178.70,240.66 L179.20,240.65 L179.70,240.64 L180.20,240.63 L180.70,240.62 L181.20,240.61 L181.70,240.59 L182.20,240.57 L182.70,240.56 L183.20,240.54 L183.70,240.52 L184.20,240.50 L184.70,240.48 L185.20,240.46 L185.70,240.44 L186.20,240.42 L186.70,240.40 L187.20,240.38 L187.70,240.37 L188.20,240.35 L188.70,240.34 L189.20,240.32 L189.70,240.31 L190.20,240.30 L190.70,240.29 L191.20,240.28 L191.70,240.28 L192.20,240.27 L192.70,240.27 L193.20,240.27 L193.70,240.27 L194.20,240.27 L194.70,240.27 L195.20,240.28 L195.70,240.28 L196.20,240.29 L196.70,240.29 L197.20,240.30 L197.70,240.31 L198.20,240.32 L198.70,240.33 L199.20,240.34 L199.70,240.36 L200.20,240.37 L200.70,240.38 L201.20,240.40 L201.70,240.42 L202.20,240.43 L202.70,240.45 L203.20,240.47 L203.70,240.49 L204.20,240.51 L204.70,240.53 L205.20,240.55 L205.70,240.57 L206.20,240.60 L206.70,240.62 L207.20,240.64 L207.70,240.67 L208.20,240.69 L208.70,240.71 L209.20,240.74 L209.70,240.77 L210.20,240.79 L210.70,240.82 L211.20,240.84 L211.70,240.87 L212.20,240.90 L212.70,240.92 L213.20,240.95 L213.70,240.98 L214.20,241.01 L214.70,241.03 L215.20,241.06 L215.70,241.09 L216.20,241.11 L216.70,241.14 L217.20,241.17 L217.70,241.20 L218.20,241.22 L218.70,241.25 L219.20,241.28 L219.70,241.30 L220.20,241.33 L220.70,241.35 L221.20,241.38 L221.70,241.40 L222.20,241.43 L222.70,241.46 L223.20,241.48 L223.70,241.50 L224.20,241.53 L224.70,241.55 L225.20,241.58 L225.70,241.60 L226.20,241.63 L226.70,241.65 L227.20,241.67 L227.70,241.70 L228.20,241.72 L228.70,241.74 L229.20,241.77 L229.70,241.79 L230.20,241.81 L230.70,241.83 L231.20,241.86 L231.70,241.88 L232.20,241.90 L232.70,241.92 L233.20,241.94 L233.70,241.97 L234.20,241.99 L234.70,242.01 L235.20,242.03 L235.70,242.05 L236.20,242.07 L236.70,242.09 L237.20,242.11 L237.70,242.13 L238.20,242.15 L238.70,242.17 L239.20,242.19 L239.70,242.21 L240.20,242.23 L240.70,242.25 L241.20,242.27 L241.70,242.29 L242.20,242.31 L242.70,242.33 L243.20,242.35 L243.70,242.37 L244.20,242.39 L244.70,242.41 L245.20,242.43 L245.70,242.44 L246.20,242.46 L246.70,242.48 L247.20,242.50 L247.70,242.52 L248.20,242.54 L248.70,242.55 L249.20,242.57 L249.70,242.59 L250.20,242.61 L250.70,242.62 L251.20,242.64 L251.70,242.66 L252.20,242.68 L252.70,242.69 L253.20,242.71 L253.70,242.73 L254.20,242.74 L254.70,242.76 L255.20,242.78 L255.70,242.80 L256.20,242.81 L256.70,242.83 L257.20,242.85 L257.70,242.86 L258.20,242.88 L258.70,242.89 L259.20,242.91 L259.70,242.93 L260.20,242.94 L260.70,242.96 L261.20,242.98 L261.70,242.99 L262.20,243.01 L262.70,243.02 L263.20,243.04 L263.70,243.05 L264.20,243.07 L264.70,243.09 L265.20,243.10 L265.70,243.12 L266.20,243.13 L266.70,243.15 L267.20,243.16 L267.70,243.18 L268.20,243.19 L268.70,243.21 L269.20,243.23 L269.70,243.24 L270.20,243.26 L270.70,243.27 L271.20,243.29 L271.70,243.30 L272.20,243.32 L272.70,243.33 L273.20,243.35 L273.70,243.36 L274.20,243.38 L274.70,243.39 L275.20,243.41 L275.70,243.42 L276.20,243.44 L276.70,243.45 L277.20,243.47 L277.70,243.48 L278.20,243.50 L278.70,243.51 L279.20,243.53 L279.70,243.54 L280.20,243.56 L280.70,243.57 L281.20,243.59 L281.70,243.60 L282.20,243.62 L282.70,243.63 L283.20,243.65 L283.70,243.66 L284.20,243.68 L284.70,243.69 L285.20,243.71 L285.70,243.72 L286.20,243.74 L286.70,243.75 L287.20,243.77 L287.70,243.78 L288.20,243.80 L288.70,243.82 L289.20,243.83 L289.70,243.85 L290.20,243.86 L290.70,243.88 L291.20,243.89 L291.70,243.91 L292.20,243.92 L292.70,243.94 L293.20,243.95 L293.70,243.97 L294.20,243.99 L294.70,244.00 L295.20,244.02 L295.70,244.03 L296.20,244.05 L296.70,244.07 L297.20,244.08 L297.70,244.10 L298.20,244.11 L298.70,244.13 L299.20,244.15 L299.70,244.16 L300.20,244.18 L300.70,244.20 L301.20,244.21 L301.70,244.23 L302.20,244.25 L302.70,244.26 L303.20,244.28 L303.70,244.30 L304.20,244.31 L304.70,244.33 L305.20,244.35 L305.70,244.37 L306.20,244.38 L306.70,244.40 L307.20,244.42 L307.70,244.44 L308.20,244.46 L308.70,244.48 L309.20,244.50 L309.70,244.52 L310.20,244.54 L310.70,244.56 L311.20,244.58 L311.70,244.60 L312.20,244.62 L312.70,244.64 L313.20,244.66 L313.70,244.69 L314.20,244.71 L314.70,244.73 L315.20,244.75 L315.70,244.78 L316.20,244.80 L316.70,244.83 L317.20,244.85 L317.70,244.88 L318.20,244.90 L318.70,244.93 L319.20,244.96 L319.70,244.98 L320.20,245.01 L320.70,245.04 L321.20,245.07 L321.70,245.10 L322.20,245.13 L322.70,245.16 L323.20,245.19 L323.70,245.22 L324.20,245.25 L324.70,245.29 L325.20,245.32 L325.70,245.35 L326.20,245.39 L326.70,245.42 L327.20,245.46 L327.70,245.50 L328.20,245.53 L328.70,245.57 L329.20,245.61 L329.70,245.65 L330.20,245.69 L330.70,245.73 L331.20,245.77 L331.70,245.81 L332.20,245.86 L332.70,245.90 L333.20,245.94 L333.70,245.99 L334.20,246.04 L334.70,246.08 L335.20,246.13 L335.70,246.18 L336.20,246.23 L336.70,246.28 L337.20,246.33 L337.70,246.38 L338.20,246.44 L338.70,246.49 L339.20,246.54 L339.70,246.60 L340.20,246.66 L340.70,246.71 L341.20,246.77 L341.70,246.83 L342.20,246.89 L342.70,246.95 L343.20,247.02 L343.70,247.08 L344.20,247.15 L344.70,247.21 L345.20,247.28 L345.70,247.34 L346.20,247.41 L346.70,247.48 L347.20,247.55 L347.70,247.62 L348.20,247.70 L348.70,247.77 L349.20,247.84 L349.70,247.92 L350.20,247.99 L350.70,248.07 L351.20,248.15 L351.70,248.23 L352.20,248.31 L352.70,248.39 L353.20,248.47 L353.70,248.55 L354.20,248.64 L354.70,248.72 L355.20,248.81 L355.70,248.90 L356.20,248.98 L356.70,249.07 L357.20,249.16 L357.70,249.25 L358.20,249.34 L358.70,249.44 L359.20,249.53 L359.70,249.63 L360.20,249.72 L360.70,249.82 L361.20,249.92 L361.70,250.01 L362.20,250.11 L362.70,250.21 L363.20,250.31 L363.70,250.42 L364.20,250.52 L364.70,250.62 L365.20,250.73 L365.70,250.84 L366.20,250.94 L366.70,251.05 L367.20,251.16 L367.70,251.27 L368.20,251.38 L368.70,251.49 L369.20,251.61 L369.70,251.72 L370.20,251.83 L370.70,251.95 L371.20,252.07 L371.70,252.18 L372.20,252.30 L372.70,252.42 L373.20,252.54 L373.70,252.66 L374.20,252.79 L374.70,252.91 L375.20,253.03 L375.70,253.16 L376.20,253.29 L376.70,253.41 L377.20,253.54 L377.70,253.67 L378.20,253.80 L378.70,253.93 L379.20,254.06 L379.70,254.20 L380.20,254.33 L380.70,254.46 L381.20,254.60 L381.70,254.74 L382.20,254.87 L382.70,255.01 L383.20,255.15 L383.70,255.29 L384.20,255.43 L384.70,255.58 L385.20,255.72 L385.70,255.86 L386.20,256.01 L386.70,256.16 L387.20,256.30 L387.70,256.45 L388.20,256.60 L388.70,256.75 L389.20,256.90 L389.70,257.05 L390.20,257.21 L390.70,257.36 L391.20,257.51 L391.70,257.67 L392.20,257.83 L392.70,257.98 L393.20,258.14 L393.70,258.30 L394.20,258.46 L394.70,258.62 L395.20,258.79 L395.70,258.95 L396.20,259.11 L396.70,259.28 L397.20,259.44 L397.70,259.61 L398.20,259.78 L398.70,259.95 L399.20,260.12 L399.70,260.29 L400.20,260.46 L400.70,260.63 L401.20,260.81 L401.70,260.98 L402.20,261.16 L402.70,261.33 L403.20,261.51 L403.70,261.69 L404.20,261.87 L404.70,262.05 L405.20,262.23 L405.70,262.41 L406.20,262.59 L406.70,262.78 L407.20,262.96 L407.70,263.15 L408.20,263.33 L408.70,263.52 L409.20,263.71 L409.70,263.90 L410.20,264.09 L410.70,264.28 L411.20,264.47 L411.70,264.67 L412.20,264.86 L412.70,265.05 L413.20,265.25 L413.70,265.45 L414.20,265.64 L414.70,265.84 L415.20,266.04 L415.70,266.24 L416.20,266.44 L416.70,266.65 L417.20,266.85 L417.70,267.05 L418.20,267.26 L418.70,267.47 L419.20,267.67 L419.70,267.88 L420.20,268.09 L420.70,268.30 L421.20,268.51 L421.70,268.72 L422.20,268.93 L422.70,269.15 L423.20,269.36 L423.70,269.58 L424.20,269.79 L424.70,270.01 L425.20,270.23 L425.70,270.45 L426.20,270.67 L426.70,270.89 L427.20,271.11 L427.70,271.33 L428.20,271.56 L428.70,271.78 L429.20,272.01 L429.70,272.23 L430.20,272.46 L430.70,272.69 L431.20,272.92 L431.70,273.15 L432.20,273.38 L432.70,273.61 L433.20,273.84 L433.70,274.08 L434.20,274.31 L434.70,274.55 L435.20,274.78 L435.70,275.02 L436.20,275.27 L436.70,275.51 L437.20,275.75 L437.70,276.00 L438.20,276.25 L438.70,276.50 L439.20,276.76 L439.70,277.01 L440.20,277.27 L440.70,277.54 L441.20,277.80 L441.70,278.07 L442.20,278.34 L442.70,278.62 L443.20,278.90 L443.70,279.18 L444.20,279.47 L444.70,279.76 L445.20,280.05 L445.70,280.35 L446.20,280.65 L446.70,280.96 L447.20,281.27 L447.70,281.59 L448.20,281.91 L448.70,282.23 L449.20,282.56 L449.70,282.90 L450.20,283.24 L450.70,283.59 L451.20,283.94 L451.70,284.30 L452.20,284.66 L452.70,285.03 L453.20,285.41 L453.70,285.79 L454.20,286.18 L454.70,286.57 L455.20,286.97 L455.70,287.38 L456.20,287.79 L456.70,288.21 L457.20,288.64 L457.70,289.08 L458.20,289.52 L458.70,289.97 L459.20,290.43 L459.70,290.89 L460.20,291.37 L460.70,291.85 L461.20,292.34 L461.70,292.83 L462.20,293.34 L462.70,293.85 L463.20,294.37 L463.70,294.90 L464.20,295.44 L464.70,295.99 L465.20,296.55 L465.70,297.12 L466.20,297.69 L466.70,298.28 L467.20,298.87 L467.70,299.48 L468.20,300.09 L468.70,300.72 L469.20,301.35 L469.70,302.00 L470.20,302.65 L470.70,303.32 L471.20,303.99 L471.70,304.68 L472.20,305.37 L472.70,306.07 L473.20,306.78 L473.70,307.50 L474.20,308.23 L474.70,308.96 L475.20,309.70 L475.70,310.44 L476.20,311.19 L476.70,311.95 L477.20,312.71 L477.70,313.48 L478.20,314.25 L478.70,315.02 L479.20,315.80 L479.70,316.58 L480.20,317.36 L480.70,318.14 L481.20,318.93 L481.70,319.72 L482.20,320.51 L482.70,321.30 L483.20,322.08 L483.70,322.87 L484.20,323.66 L484.70,324.45 L485.20,325.23 L485.70,326.02 L486.20,326.80 L486.70,327.58 L487.20,328.35 L487.70,329.12 L488.20,329.89 L488.70,330.66 L489.20,331.41 L489.70,332.17 L490.20,332.92 L490.70,333.66 L491.20,334.39 L491.70,335.12 L492.20,335.84 L492.70,336.56 L493.20,337.26 L493.70,337.96 L494.20,338.65 L494.70,339.33 L495.20,340.00 L495.70,340.66 L496.20,341.31 L496.70,341.95 L497.20,342.59 L497.70,343.21 L498.20,343.82 L498.70,344.42 L499.20,345.02 L499.70,345.60 L500.20,346.18 L500.70,346.75 L501.20,347.31 L501.70,347.86 L502.20,348.40 L502.70,348.93 L503.20,349.46 L503.70,349.97 L504.20,350.48 L504.70,350.98 L505.20,351.48 L505.70,351.96 L506.20,352.44 L506.70,352.90 L507.20,353.37 L507.70,353.82 L508.20,354.27 L508.70,354.71 L509.20,355.14 L509.70,355.56 L510.20,355.98 L510.70,356.39 L511.20,356.79 L511.70,357.19 L512.20,357.58 L512.70,357.97 L513.20,358.34 L513.70,358.71 L514.20,359.08 L514.70,359.44 L515.20,359.79 L515.70,360.14 L516.20,360.48 L516.70,360.81 L517.20,361.14 L517.70,361.46 L518.20,361.78 L518.70,362.09 L519.20,362.40 L519.70,362.70 L520.20,363.00 L520.70,363.29 L521.20,363.58 L521.70,363.86 L522.20,364.14 L522.70,364.41 L523.20,364.68 L523.70,364.94 L524.20,365.20 L524.70,365.46 L525.20,365.71 L525.70,365.96 L526.20,366.20 L526.70,366.44 L527.20,366.67 L527.70,366.90 L528.20,367.13 L528.70,367.36 L529.20,367.58 L529.70,367.79 L530.20,368.01 L530.70,368.22 L531.20,368.43 L531.70,368.63 L532.20,368.84 L532.70,369.04 L533.20,369.23 L533.70,369.43 L534.20,369.62 L534.70,369.81 L535.20,370.00 L535.70,370.18 L536.20,370.36 L536.70,370.55 L537.20,370.72 L537.70,370.90 L538.20,371.08 L538.70,371.25 L539.20,371.43 L539.70,371.60 L540.20,371.77 L540.70,371.94 L541.20,372.10 L541.70,372.27 L542.20,372.44 L542.70,372.60 L543.20,372.76 L543.70,372.93 L544.20,373.09 L544.70,373.25 L545.20,373.42 L545.70,373.58 L546.20,373.74 L546.70,373.90 L547.20,374.06 L547.70,374.22 L548.20,374.39 L548.70,374.55 L549.20,374.71 L549.70,374.87 L550.20,375.04 L550.70,375.20 L551.20,375.37 L551.70,375.53 L552.20,375.70 L552.70,375.86 L553.20,376.03 L553.70,376.20 L554.20,376.36 L554.70,376.53 L555.20,376.70 L555.70,376.87 L556.20,377.04 L556.70,377.20 L557.20,377.37 L557.70,377.54 L558.20,377.71 L558.70,377.88 L559.20,378.05 L559.70,378.22 L560.20,378.39 L560.70,378.56 L561.20,378.73 L561.70,378.90 L562.20,379.07 L562.70,379.24 L563.20,379.41 L563.70,379.58 L564.20,379.75 L564.70,379.91 L565.20,380.08 L565.70,380.25 L566.20,380.42 L566.70,380.59 L567.20,380.76 L567.70,380.92 L568.20,381.09 L568.70,381.26 L569.20,381.43 L569.70,381.59 L570.20,381.76 L570.70,381.92 L571.20,382.09 L571.70,382.26 L572.20,382.42 L572.70,382.58 L573.20,382.75 L573.70,382.91 L574.20,383.07 L574.70,383.23 L575.20,383.39 L575.70,383.55 L576.20,383.71 L576.70,383.87 L577.20,384.03 L577.70,384.19 L578.20,384.35 L578.70,384.50 L579.20,384.66 L579.70,384.81 L580.20,384.97 L580.70,385.12 L581.20,385.27 L581.70,385.42 L582.20,385.57 L582.70,385.72 L583.20,385.87 L583.70,386.02 L584.20,386.16 L584.70,386.31 L585.20,386.45 L585.70,386.59 L586.20,386.74 L586.70,386.88 L587.20,387.02 L587.70,387.15 L588.20,387.29 L588.70,387.43 L589.20,387.56 L589.70,387.69 L590.20,387.83 L590.70,387.96 L591.20,388.09 L591.70,388.22 L592.20,388.34 L592.70,388.47 L593.20,388.59 L593.70,388.71 L594.20,388.83 L594.70,388.95 L595.20,389.07 L595.70,389.19 L596.20,389.30 L596.70,389.42 L597.20,389.53 L597.70,389.64 L598.20,389.75 L598.70,389.86 L599.20,389.97 L599.70,390.08 L600.20,390.18 L600.70,390.28 L601.20,390.39 L601.70,390.49 L602.20,390.59 L602.70,390.69 L603.20,390.79 L603.70,390.88 L604.20,390.98 L604.70,391.08 L605.20,391.17 L605.70,391.26 L606.20,391.35 L606.70,391.44 L607.20,391.53 L607.70,391.62 L608.20,391.71 L608.70,391.80 L609.20,391.88 L609.70,391.97 L610.20,392.05 L610.70,392.14 L611.20,392.22 L611.70,392.30 L612.20,392.38 L612.70,392.46 L613.20,392.54 L613.70,392.62 L614.20,392.70 L614.70,392.77 L615.20,392.85 L615.70,392.92 L616.20,393.00 L616.70,393.07 L617.20,393.14 L617.70,393.22 L618.20,393.29 L618.70,393.36 L619.20,393.43 L619.70,393.50 L620.20,393.57 L620.70,393.64 L621.20,393.71 L621.70,393.77 L622.20,393.84 L622.70,393.91 L623.20,393.97 L623.70,394.04 L624.20,394.11 L624.70,394.17 L625.20,394.24 L625.70,394.30 L626.20,394.36 L626.70,394.43 L627.20,394.49 L627.70,394.55 L628.20,394.62 L628.70,394.68 L629.20,394.74 L629.70,394.80 L630.20,394.86 L630.70,394.93 L631.20,394.99 L631.70,395.05 L632.20,395.11 L632.70,395.17 L633.20,395.23 L633.70,395.29 L634.20,395.35 L634.70,395.42 L635.20,395.48 L635.70,395.54 L636.20,395.60 L636.70,395.66 L637.20,395.72 L637.70,395.78 L638.20,395.85 L638.70,395.91 L639.20,395.97 L639.70,396.03 L640.20,396.10 L640.70,396.16 L641.20,396.22 L641.70,396.29 L642.20,396.35 L642.70,396.42 L643.20,396.48 L643.70,396.55 L644.20,396.61 L644.70,396.68 L645.20,396.74 L645.70,396.81 L646.20,396.88 L646.70,396.95 L647.20,397.02 L647.70,397.09 L648.20,397.16 L648.70,397.23 L649.20,397.30 L649.70,397.37 L650.20,397.44 L650.70,397.51 L651.20,397.59 L651.70,397.66 L652.20,397.73 L652.70,397.81 L653.20,397.88 L653.70,397.96 L654.20,398.04 L654.70,398.11 L655.20,398.19 L655.70,398.27 L656.20,398.34 L656.70,398.42 L657.20,398.50 L657.70,398.58 L658.20,398.66 L658.70,398.74 L659.20,398.82 L659.70,398.90 L660.20,398.98 L660.70,399.07 L661.20,399.15 L661.70,399.23 L662.20,399.31 L662.70,399.40 L663.20,399.48 L663.70,399.57 L664.20,399.65 L664.70,399.74 L665.20,399.82 L665.70,399.91 L666.20,399.99 L666.70,400.08 L667.20,400.17 L667.70,400.25 L668.20,400.34 L668.70,400.43 L669.20,400.52 L669.70,400.61 L670.20,400.69 L670.70,400.78 L671.20,400.87 L671.70,400.96 L672.20,401.05 L672.70,401.14 L673.20,401.23 L673.70,401.33 L674.20,401.42 L674.70,401.51 L675.20,401.60 L675.70,401.69 L676.20,401.78 L676.70,401.88 L677.20,401.97 L677.70,402.06 L678.20,402.16 L678.70,402.25 L679.20,402.34 L679.70,402.44 L680.20,402.53 L680.70,402.63 L681.20,402.72 L681.70,402.82 L682.20,402.91 L682.70,403.01 L683.20,403.10 L683.70,403.20 L684.20,403.29 L684.70,403.39 L685.20,403.48 L685.70,403.58 L686.20,403.68 L686.70,403.77 L687.20,403.87 L687.70,403.97 L688.20,404.06 L688.70,404.16 L689.20,404.26 L689.70,404.36 L690.20,404.45 L690.70,404.55 L691.20,404.65 L691.70,404.75 L692.20,404.85 L692.70,404.94 L693.20,405.04 L693.70,405.14 L694.20,405.24 L694.70,405.34 L695.20,405.43 L695.70,405.53 L696.20,405.63 L696.70,405.73 L697.20,405.83 L697.70,405.93 L698.20,406.03 L698.70,406.12 L699.20,406.22 L699.70,406.32 L700.20,406.42 L700.70,406.52 L701.20,406.62 L701.70,406.72 L702.20,406.82 L702.70,406.91 L703.20,407.01 L703.70,407.11 L704.20,407.21 L704.70,407.31 L705.20,407.41 L705.70,407.51 L706.20,407.60 L706.70,407.70 L707.20,407.80 L707.70,407.90 L708.20,408.00 L708.70,408.10 L709.20,408.19 L709.70,408.29 L710.20,408.39 L710.70,408.49 L711.20,408.59 L711.70,408.68 L712.20,408.78 L712.70,408.88 L713.20,408.98 L713.70,409.07 L714.20,409.17 L714.70,409.27 L715.20,409.36 L715.70,409.46 L716.20,409.56 L716.70,409.65 L717.20,409.75 L717.70,409.84 L718.20,409.94 L718.70,410.04 L719.20,410.13 L719.70,410.23 L720.20,410.32 L720.70,410.42 L721.20,410.51 L721.70,410.61 L722.20,410.70 L722.70,410.79 L723.20,410.89 L723.70,410.98 L724.20,411.08 L724.70,411.17 L725.20,411.26 L725.70,411.35 L726.20,411.45 L726.70,411.54 L727.20,411.63 L727.70,411.72 L728.20,411.81 L728.70,411.90 L729.20,412.00 L729.70,412.09 L730.20,412.18 L730.70,412.27 L731.20,412.36 L731.70,412.44 L732.20,412.53 L732.70,412.62 L733.20,412.71 L733.70,412.80 L734.20,412.89 L734.70,412.97 L735.20,413.06 L735.70,413.15 L736.20,413.23 L736.70,413.32 L737.20,413.40 L737.70,413.49 L738.20,413.57 L738.70,413.66 L739.20,413.74 L739.70,413.83 L740.20,413.91 L740.70,413.99 L741.20,414.07 L741.70,414.16 L742.20,414.24 L742.70,414.32 L743.20,414.40 L743.70,414.48 L744.20,414.56 L744.70,414.64 L745.20,414.72 L745.70,414.80 L746.20,414.88 L746.70,414.95 L747.20,415.03 L747.70,415.11 L748.20,415.18 L748.70,415.26 L749.20,415.33 L749.70,415.41 L750.20,415.48 L750.70,415.56 L751.20,415.63 L751.70,415.70 L752.20,415.77 L752.70,415.85 L753.20,415.92 L753.70,415.99 L754.20,416.06 L754.50,416.10" fill="none" stroke="#f2b134" stroke-width="3.5" stroke-linecap="round" stroke-linejoin="round"/>
<circle cx="111.20" cy="190.20" r="4.6" fill="#f2b134"/>
<circle cx="218.20" cy="241.20" r="4.6" fill="#f2b134"/>
<circle cx="325.20" cy="245.30" r="4.6" fill="#f2b134"/>
<circle cx="432.40" cy="273.40" r="4.6" fill="#f2b134"/>
<circle cx="539.50" cy="371.50" r="4.6" fill="#f2b134"/>
<circle cx="646.50" cy="396.90" r="4.6" fill="#f2b134"/>
<circle cx="754.50" cy="416.10" r="4.6" fill="#f2b134"/>
<line x1="487" y1="30.6" x2="513" y2="30.6" stroke="#4a78b0" stroke-width="3.8" stroke-linecap="round"/>
<circle cx="500" cy="30.6" r="4.5" fill="#4a78b0"/>
<line x1="487" y1="62.0" x2="513" y2="62.0" stroke="#77787c" stroke-width="3.8" stroke-linecap="round"/>
<circle cx="500" cy="62.0" r="4.5" fill="#77787c"/>
<line x1="487" y1="94.7" x2="513" y2="94.7" stroke="#f2b134" stroke-width="3.8" stroke-linecap="round"/>
<circle cx="500" cy="94.7" r="4.5" fill="#f2b134"/>
<circle cx="620.9" cy="17.50" r="1.35" fill="#1a1a1a"/>
<path d="M621.6,29.50 Q621,33.20 618.6,35.40" fill="none" stroke="#1a1a1a" stroke-width="1.9" stroke-linecap="round"/>
<circle cx="620.9" cy="57.40" r="1.35" fill="#1a1a1a"/>
<path d="M621.6,69.40 Q621,73.10 618.6,75.30" fill="none" stroke="#1a1a1a" stroke-width="1.9" stroke-linecap="round"/>
<circle cx="620.9" cy="97.00" r="1.35" fill="#1a1a1a"/>
<path d="M621.6,109.00 Q621,112.70 618.6,114.90" fill="none" stroke="#1a1a1a" stroke-width="1.9" stroke-linecap="round"/>
</svg>
<div class="t" style="font-size:41px;font-weight:bold;letter-spacing:2.5px;-webkit-text-stroke:0.9px #000;transform:translate(55.09px,34.90px) scale(0.9397,1.0177)">SMF2405</div>
<div class="t" style="font-size:28px;letter-spacing:1px;color:#1a1a1a;-webkit-text-stroke:0.5px #fff;transform:translate(527.08px,5.10px) scale(0.9188,1.1928)">24VDC</div>
<div class="t" style="font-size:28px;letter-spacing:1px;color:#1a1a1a;-webkit-text-stroke:0.5px #fff;transform:translate(642.31px,6.32px) scale(0.9882,1.1397)">5.0A rms</div>
<div class="t" style="font-size:28px;letter-spacing:1px;color:#1a1a1a;-webkit-text-stroke:0.5px #fff;transform:translate(528.09px,47.48px) scale(0.9071,1.0906)">48VDC</div>
<div class="t" style="font-size:28px;letter-spacing:1px;color:#1a1a1a;-webkit-text-stroke:0.5px #fff;transform:translate(642.90px,47.48px) scale(0.9832,1.0906)">5.0A rms</div>
<div class="t" style="font-size:28px;letter-spacing:1px;color:#1a1a1a;-webkit-text-stroke:0.5px #fff;transform:translate(527.05px,85.98px) scale(0.9187,1.1318)">60VDC</div>
<div class="t" style="font-size:28px;letter-spacing:1px;color:#1a1a1a;-webkit-text-stroke:0.5px #fff;transform:translate(642.69px,85.98px) scale(0.9854,1.1318)">5.0A rms</div>
<div class="t" style="font-size:23px;letter-spacing:1.5px;-webkit-text-stroke:0.4px #fff;transform:translate(67.06px,115.86px) scale(1.0319,1.1135)">3.5</div>
<div class="t" style="font-size:23px;-webkit-text-stroke:0.4px #fff;transform:translate(80.14px,176.95px) scale(1.2176,1.1135)">3</div>
<div class="t" style="font-size:23px;letter-spacing:1.5px;-webkit-text-stroke:0.4px #fff;transform:translate(66.67px,237.67px) scale(1.0249,1.1265)">2.5</div>
<div class="t" style="font-size:23px;-webkit-text-stroke:0.4px #fff;transform:translate(80.57px,298.62px) scale(1.2466,1.0772)">2</div>
<div class="t" style="font-size:23px;letter-spacing:1.5px;-webkit-text-stroke:0.4px #fff;transform:translate(70.06px,358.94px) scale(1.0318,1.1135)">1.5</div>
<div class="t" style="font-size:23px;-webkit-text-stroke:0.4px #fff;transform:translate(82.04px,421.02px) scale(1.2694,1.1113)">1</div>
<div class="t" style="font-size:23px;letter-spacing:1.5px;-webkit-text-stroke:0.4px #fff;transform:translate(65.97px,481.44px) scale(1.0514,1.1113)">0.5</div>
<div class="t" style="font-size:23px;-webkit-text-stroke:0.4px #fff;transform:translate(80.38px,542.11px) scale(1.2511,1.1272)">0</div>
<div class="t" style="font-size:23px;-webkit-text-stroke:0.4px #fff;transform:translate(105.43px,568.82px) scale(1.2156,1.1147)">0</div>
<div class="t" style="font-size:23px;letter-spacing:1.5px;-webkit-text-stroke:0.4px #fff;transform:translate(204.28px,568.82px) scale(1.0197,1.1147)">150</div>
<div class="t" style="font-size:23px;letter-spacing:1.5px;-webkit-text-stroke:0.4px #fff;transform:translate(310.39px,568.82px) scale(1.0397,1.1147)">300</div>
<div class="t" style="font-size:23px;letter-spacing:1.5px;-webkit-text-stroke:0.4px #fff;transform:translate(417.39px,568.82px) scale(1.0260,1.1147)">450</div>
<div class="t" style="font-size:23px;letter-spacing:1.5px;-webkit-text-stroke:0.4px #fff;transform:translate(523.71px,568.82px) scale(1.0585,1.1147)">600</div>
<div class="t" style="font-size:23px;letter-spacing:1.5px;-webkit-text-stroke:0.4px #fff;transform:translate(631.84px,568.82px) scale(1.0549,1.1147)">750</div>
<div class="t" style="font-size:23px;letter-spacing:1.5px;-webkit-text-stroke:0.4px #fff;transform:translate(738.23px,569.13px) scale(1.0631,1.1289)">900</div>
<div class="t" style="font-size:21px;font-weight:bold;transform:translate(439.55px,602.75px) scale(0.9854,0.9378)">速度</div>
<div class="t" style="font-size:22px;font-weight:bold;letter-spacing:1.5px;-webkit-text-stroke:0.5px #000;transform:translate(482.90px,602.08px) scale(0.9893,0.9557)">(r/min)</div>
<div class="t" style="font-size:21px;font-weight:bold;transform:translate(34.88px,292.53px) scale(0.9451,0.9493)">转</div>
<div class="t" style="font-size:21px;font-weight:bold;transform:translate(35.16px,313.97px) scale(0.9432,0.9718)">矩</div>
<div class="t" style="font-size:22px;font-weight:bold;writing-mode:vertical-rl;-webkit-text-stroke:0.4px #000;transform:translate(34.92px,333.84px) scale(0.9864,1.0943)">(N.m)</div>
</body></html>
